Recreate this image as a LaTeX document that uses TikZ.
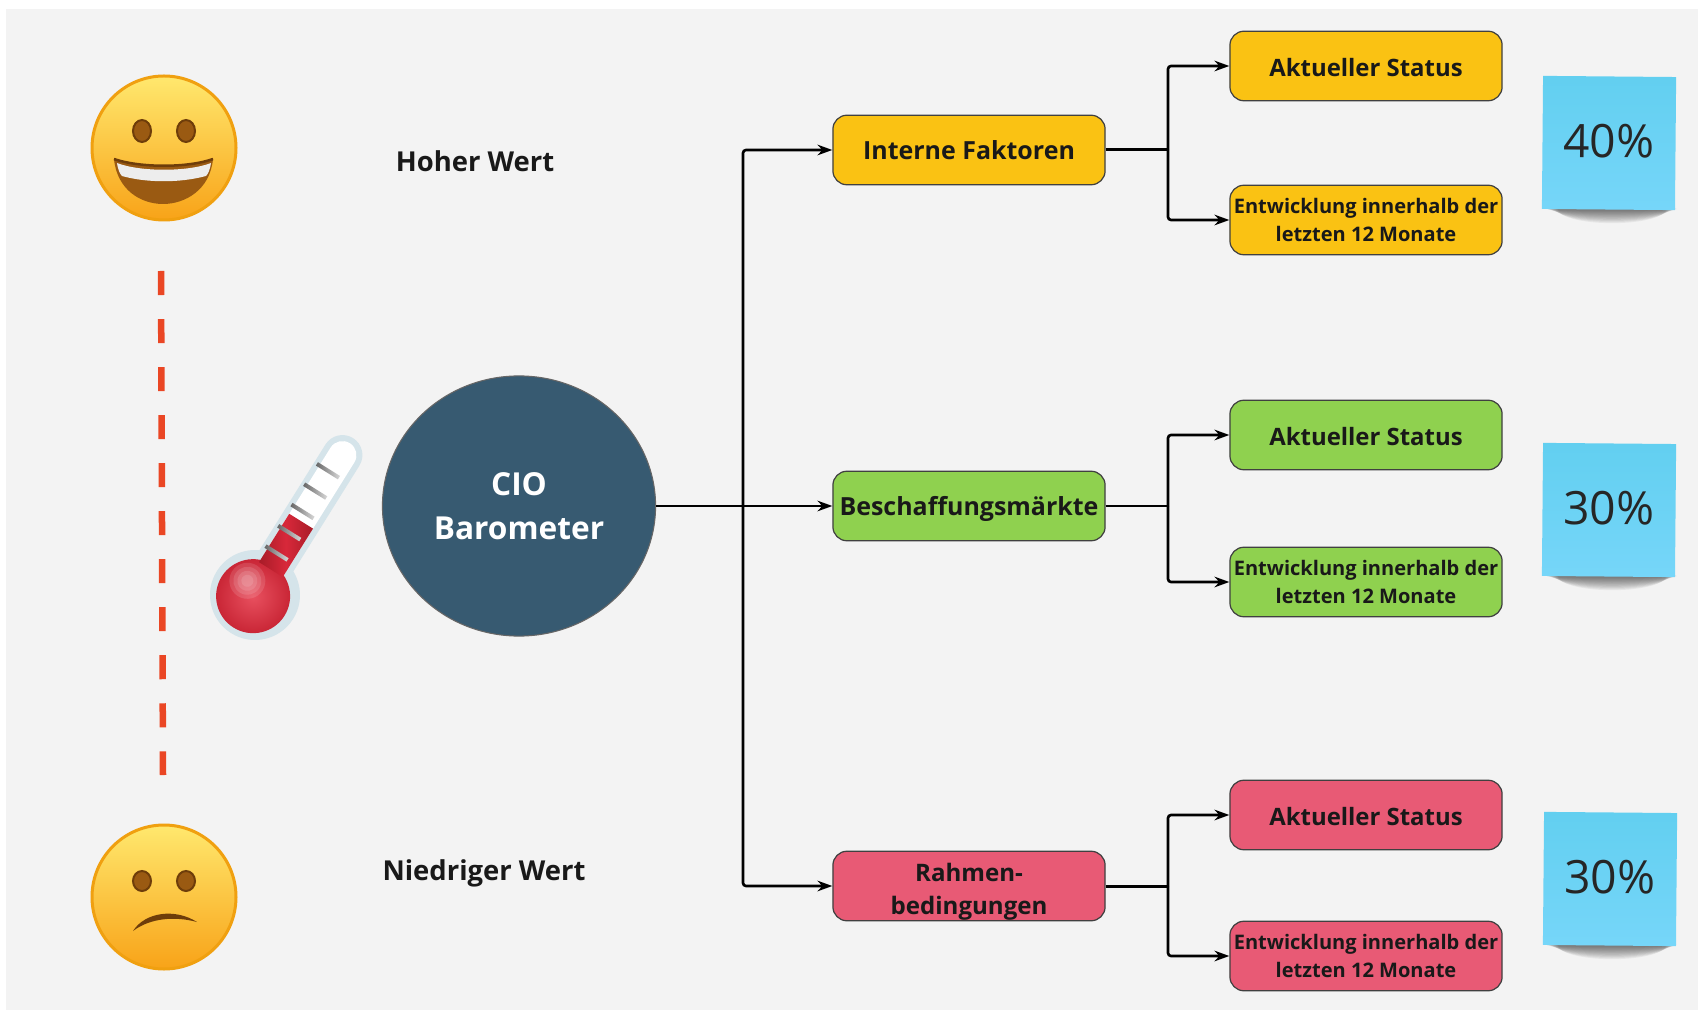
\documentclass[tikz,border=0pt]{standalone}
\usepackage{fontspec}
\setmainfont{Open Sans}
\usetikzlibrary{arrows.meta, shapes.geometric}
\tikzset{>={Stealth[length=4.2pt, width=3pt]}}
\definecolor{bgcol}{HTML}{F3F3F3}
\definecolor{cioblue}{HTML}{375A71}
\definecolor{facedark}{HTML}{9A5A12}
\definecolor{facerim}{HTML}{6E3D0A}
\definecolor{yelcol}{HTML}{FAC213}
\definecolor{grncol}{HTML}{8FD14F}
\definecolor{pnkcol}{HTML}{E85A75}
\definecolor{notetop}{HTML}{62CFF0}
\definecolor{notebot}{HTML}{76D6F9}
\definecolor{facetop}{HTML}{FFE86E}
\definecolor{facemid}{HTML}{FFD32A}
\definecolor{facebot}{HTML}{F8A318}
\definecolor{faceedge}{HTML}{F0A010}
\definecolor{dashcol}{HTML}{EA4624}
\definecolor{glass}{HTML}{D5E4EA}
\definecolor{bulbin}{HTML}{E8505F}
\definecolor{bulbout}{HTML}{C52030}
\definecolor{tubemid}{HTML}{D8283A}
\definecolor{tubeside}{HTML}{A81C28}
\tikzset{
    box/.style = {draw=black!75, line width=0.35pt, rounded corners=0.14cm, text=black!90,
        minimum width=2.72cm, minimum height=0.695cm, align=center, inner sep=0pt, font=\bfseries\fontsize{7.1}{9.2}\selectfont},
    statbox/.style = {box, text height=6.2pt, font=\bfseries\fontsize{6.8}{8}\selectfont},
    smallbox/.style = {box, font=\bfseries\fontsize{5.7}{8}\selectfont},
    yel/.style = {fill=yelcol},
    grn/.style = {fill=grncol},
    pnk/.style = {fill=pnkcol},
    conn/.style = {line width=0.75pt, rounded corners=0.03cm},
    stem/.style = {line width=0.85pt},
    note/.style = {minimum width=1.33cm, minimum height=1.33cm, inner sep=0pt, rotate=-0.5, text depth=1.3pt,
        top color=notetop, bottom color=notebot,
        text=black!85, font=\fontsize{13.1}{14}\selectfont},
    lab/.style = {inner sep=0pt, text=black!90, font=\bfseries\fontsize{7.8}{9}\selectfont},
    face/.style = {top color=facetop, middle color=facemid, bottom color=facebot, draw=faceedge, line width=0.03cm},
    eye/.style = {fill=facedark, draw=facerim, line width=0.02cm},
}
\begin{document}
\begin{tikzpicture}[x=0.01cm, y=-0.01cm]
    \useasboundingbox (0,0) rectangle (1698,1010);
    \fill[white] (0,0) rectangle (1698,1010);
    \fill[bgcol] (6,9) rectangle (1698,1010);

    % faces
    \shadedraw[face] (164,148) circle [radius=72];
    \draw[eye] (142,131) ellipse [x radius=9, y radius=11];
    \draw[eye] (186,131) ellipse [x radius=9, y radius=11];
    \fill[facedark] (114,159) .. controls (140,168) and (188,168) .. (213,159)
        .. controls (210,190) and (185,204) .. (163,204) .. controls (141,204) and (117,190) .. (114,159);
    \fill[black!7] (117,163) .. controls (140,172) and (188,172) .. (211,163)
        .. controls (210,170) and (208,174) .. (206,176) .. controls (180,183) and (147,183) .. (122,176)
        .. controls (120,174) and (118,170) .. (117,163);
    \draw[facerim, line width=0.025cm] (114,159) .. controls (140,168) and (188,168) .. (213,159);
    \shadedraw[face] (164,897) circle [radius=72];
    \draw[eye] (142,881) ellipse [x radius=9, y radius=10];
    \draw[eye] (186,881) ellipse [x radius=9, y radius=10];
    \fill[facerim] (133,931) .. controls (145,912) and (175,908) .. (197,922)
        .. controls (175,916) and (150,918) .. (133,931);

    % dashed line
    \coordinate (dtop) at (161,271);
    \coordinate (dbot) at (163,775);
    \draw[line width=0.065cm, dashcol, dash pattern=on 0.24cm off 0.24cm] (dtop) -- (dbot);

    % thermometer
    \begin{scope}[shift={(255,595)}, rotate=-32]
        \fill[glass] (-20,-30) -- (-20,-165) arc [start angle=180, end angle=360, radius=20] -- (20,-30) -- cycle;
        \fill[white] (-14,-30) -- (-14,-165) arc [start angle=180, end angle=360, radius=14] -- (14,-30) -- cycle;
        \fill[glass] (0,0) circle [radius=45];
        \shade[inner color=bulbin, outer color=bulbout] (-1,2) circle [radius=37];
        \foreach \r in {6,10,14,18}
            \fill[white, opacity=0.12] (-14,-8) circle [radius=\r];
        \shade[left color=tubeside, right color=tubeside, middle color=tubemid] (-14,-30) rectangle (14,-87);
        \foreach \i in {47,71,96,120,144}
            \shade[left color=black!60, right color=black!15] (-17,-\i-2) rectangle (9,-\i+2);
    \end{scope}

    % center
    \node (cio) [ellipse, minimum width=2.73cm, minimum height=2.6cm, inner sep=0pt, draw=black!60, line width=0.3pt,
        fill=cioblue, text=white, align=center, font=\bfseries\fontsize{9}{12.5}\selectfont] at (519,506) {CIO\\Barometer};

    % boxes
    \node (int) [box, yel] at (969,150) {Interne Faktoren};
    \node (bes) [box, grn, text depth=0pt] at (969,506) {Beschaffungsmärkte};
    \node (rah) [box, pnk, font=\bfseries\fontsize{6.85}{9.2}\selectfont] at (969,886) {\rule{0pt}{8.4pt}Rahmen-\\bedingungen};
    \node (akta) [statbox, yel] at (1366,66) {Aktueller Status};
    \node (enta) [smallbox, yel] at (1366,220) {Entwicklung innerhalb der\\letzten 12 Monate};
    \node (aktb) [statbox, grn] at (1366,435) {Aktueller Status};
    \node (entb) [smallbox, grn] at (1366,582) {Entwicklung innerhalb der\\letzten 12 Monate};
    \node (aktc) [statbox, pnk] at (1366,815) {Aktueller Status};
    \node (entc) [smallbox, pnk] at (1366,956) {Entwicklung innerhalb der\\letzten 12 Monate};

    % labels
    \node (hoch) [lab] at (475,161) {Hoher Wert};
    \node (tief) [lab] at (484,873) {Niedriger Wert};

    % shadows of the notes
    \foreach \y in {209,576,945} {
        \foreach \s in {1,...,12}
            \fill[black, opacity=0.05] (1612,\y) ellipse [x radius=66-\s, y radius=1.1*\s+1];
    }

    % notes
    \node (noa) [note] at (1609,143) {40\%};
    \node (nob) [note] at (1609,510) {30\%};
    \node (noc) [note] at (1610,879) {30\%};

    % connectors
    \coordinate (trunk) at (743,506);
    \coordinate (forka) at (1168,150);
    \coordinate (forkb) at (1168,506);
    \coordinate (forkc) at (1168,886);
    \draw[conn, stem] (cio) -- (trunk);
    \draw[conn, ->] (trunk) |- (int);
    \draw[conn, ->] (trunk) -- (bes);
    \draw[conn, ->] (trunk) |- (rah);
    \draw[conn, stem] (int) -- (forka);
    \draw[conn, ->] (forka) |- (akta);
    \draw[conn, ->] (forka) |- (enta);
    \draw[conn, stem] (bes) -- (forkb);
    \draw[conn, ->] (forkb) |- (aktb);
    \draw[conn, ->] (forkb) |- (entb);
    \draw[conn, stem] (rah) -- (forkc);
    \draw[conn, ->] (forkc) |- (aktc);
    \draw[conn, ->] (forkc) |- (entc);
\end{tikzpicture}
\end{document}
